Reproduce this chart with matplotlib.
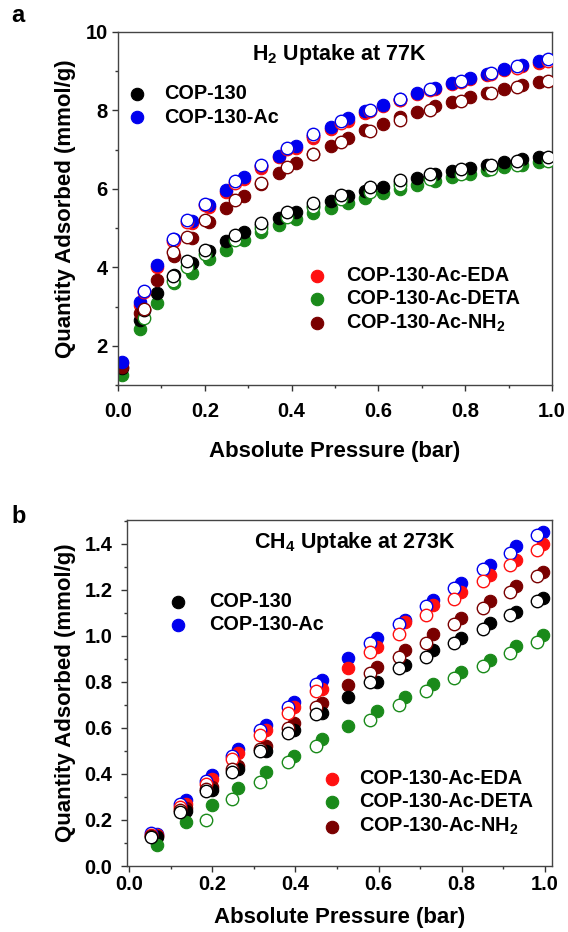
import matplotlib
matplotlib.use('Agg')
import matplotlib.pyplot as plt
from matplotlib.ticker import MultipleLocator

plt.rcParams['font.family'] = ['Liberation Sans', 'DejaVu Sans']
plt.rcParams['font.weight'] = 'bold'
plt.rcParams['mathtext.fontset'] = 'custom'
plt.rcParams['mathtext.rm'] = 'Liberation Sans:bold'
plt.rcParams['mathtext.bf'] = 'Liberation Sans:bold'
plt.rcParams['mathtext.default'] = 'bf'

names = ['COP-130', 'COP-130-Ac', 'COP-130-Ac-EDA', 'COP-130-Ac-DETA', 'COP-130-Ac-NH$_2$']
colors = ['#000000', '#0000ee', '#ff1010', '#1a8a1a', '#7a0000']

# ---- H2 at 77K (panel a) ----
h2_p_ads = [0.01, 0.05, 0.09, 0.13, 0.17, 0.21, 0.25, 0.29, 0.33, 0.37, 0.41, 0.45, 0.49,
            0.53, 0.57, 0.61, 0.65, 0.69, 0.73, 0.77, 0.81, 0.85, 0.89, 0.93, 0.97]
h2_ads = {
    'COP-130': [1.43, 2.66, 3.35, 3.80, 4.10, 4.42, 4.68, 4.90, 5.08, 5.26, 5.42, 5.57, 5.70,
                5.83, 5.95, 6.06, 6.17, 6.27, 6.37, 6.46, 6.54, 6.62, 6.69, 6.75, 6.80],
    'COP-130-Ac': [1.59, 3.12, 4.06, 4.72, 5.18, 5.60, 5.97, 6.30, 6.58, 6.85, 7.10, 7.35, 7.57,
                   7.80, 7.98, 8.14, 8.30, 8.45, 8.58, 8.70, 8.82, 8.94, 9.05, 9.15, 9.25],
    'COP-130-Ac-EDA': [1.55, 3.05, 4.00, 4.68, 5.12, 5.55, 5.92, 6.25, 6.53, 6.80, 7.05, 7.30, 7.52,
                       7.74, 7.93, 8.10, 8.26, 8.41, 8.54, 8.67, 8.79, 8.91, 9.02, 9.12, 9.22],
    'COP-130-Ac-DETA': [1.25, 2.42, 3.09, 3.60, 3.85, 4.20, 4.45, 4.70, 4.90, 5.08, 5.24, 5.39, 5.52,
                        5.65, 5.77, 5.89, 6.00, 6.10, 6.20, 6.30, 6.39, 6.47, 6.55, 6.62, 6.68],
    'COP-130-Ac-NH$_2$': [1.45, 2.84, 3.68, 4.30, 4.75, 5.15, 5.50, 5.82, 6.12, 6.40, 6.65, 6.90, 7.10,
                          7.30, 7.50, 7.66, 7.82, 7.97, 8.10, 8.22, 8.33, 8.44, 8.54, 8.64, 8.72],
}
h2_p_des = [0.99, 0.92, 0.86, 0.79, 0.72, 0.65, 0.58, 0.515, 0.45, 0.39, 0.33, 0.27, 0.20, 0.16, 0.127, 0.06]
h2_des = {
    'COP-130': [6.82, 6.72, 6.62, 6.50, 6.38, 6.22, 6.05, 5.85, 5.65, 5.40, 5.12, 4.82, 4.45, 4.15, 3.78, 2.90],
    'COP-130-Ac': [9.30, 9.12, 8.96, 8.76, 8.55, 8.30, 8.02, 7.72, 7.40, 7.05, 6.62, 6.20, 5.62, 5.20, 4.72, 3.40],
    'COP-130-Ac-EDA': [9.26, 9.08, 8.92, 8.72, 8.51, 8.26, 7.98, 7.68, 7.36, 7.01, 6.58, 6.16, 5.58, 5.16, 4.68, 3.36],
    'COP-130-Ac-DETA': [6.70, 6.60, 6.50, 6.38, 6.26, 6.10, 5.93, 5.74, 5.53, 5.28, 5.00, 4.70, 4.33, 4.02, 3.65, 2.70],
    'COP-130-Ac-NH$_2$': [8.75, 8.60, 8.45, 8.25, 8.02, 7.75, 7.48, 7.20, 6.90, 6.55, 6.15, 5.72, 5.20, 4.78, 4.38, 2.95],
}

# ---- CH4 at 273K (panel b) ----
ch4_p_ads = [0.067, 0.137, 0.20, 0.262, 0.33, 0.397, 0.464, 0.527, 0.596, 0.663, 0.73, 0.798, 0.867, 0.93, 0.995]
ch4_ads = {
    'COP-130': [0.125, 0.24, 0.33, 0.42, 0.50, 0.59, 0.665, 0.735, 0.80, 0.875, 0.94, 0.99, 1.055, 1.105, 1.165],
    'COP-130-Ac': [0.14, 0.285, 0.395, 0.51, 0.615, 0.715, 0.81, 0.905, 0.99, 1.07, 1.155, 1.23, 1.31, 1.39, 1.45],
    'COP-130-Ac-EDA': [0.135, 0.27, 0.38, 0.49, 0.59, 0.69, 0.77, 0.86, 0.95, 1.06, 1.135, 1.19, 1.265, 1.33, 1.40],
    'COP-130-Ac-DETA': [0.09, 0.19, 0.265, 0.34, 0.41, 0.48, 0.55, 0.61, 0.675, 0.735, 0.79, 0.845, 0.895, 0.955, 1.005],
    'COP-130-Ac-NH$_2$': [0.13, 0.25, 0.345, 0.435, 0.52, 0.62, 0.71, 0.787, 0.865, 0.94, 1.01, 1.08, 1.15, 1.215, 1.28],
}
ch4_p_des = [0.98, 0.915, 0.85, 0.782, 0.715, 0.648, 0.58, 0.449, 0.382, 0.315, 0.247, 0.185, 0.122, 0.052]
ch4_des = {
    'COP-130': [1.15, 1.09, 1.03, 0.97, 0.91, 0.86, 0.80, 0.66, 0.58, 0.50, 0.41, 0.325, 0.235, 0.125],
    'COP-130-Ac': [1.44, 1.36, 1.29, 1.21, 1.13, 1.05, 0.97, 0.79, 0.69, 0.59, 0.48, 0.37, 0.27, 0.145],
    'COP-130-Ac-EDA': [1.375, 1.31, 1.24, 1.16, 1.09, 1.01, 0.93, 0.76, 0.665, 0.57, 0.465, 0.355, 0.255, 0.135],
    'COP-130-Ac-DETA': [0.975, 0.925, 0.87, 0.815, 0.76, 0.70, 0.635, 0.52, 0.45, 0.365, 0.29, 0.20],
    'COP-130-Ac-NH$_2$': [1.26, 1.19, 1.12, 1.05, 0.97, 0.91, 0.84, 0.69, 0.60, 0.51, 0.42, 0.335, 0.245, 0.13],
}

fig = plt.figure(figsize=(5.68, 9.32), dpi=100)
ax_a = fig.add_axes([0.2077, 0.5869, 0.7641, 0.3788])
ax_b = fig.add_axes([0.2236, 0.0708, 0.7482, 0.3713])

ms = 80  # marker area
lfs = 14.3  # legend font size
tfs = 15.5  # title font size


def draw(ax, p_ads, ads, p_des, des, order):
    handles = {}
    for n in order:
        c = colors[names.index(n)]
        handles[n] = ax.scatter(p_ads[:len(ads[n])], ads[n], s=ms, color=c, edgecolors=c,
                                linewidths=0.8, zorder=2)
    for n in order:
        c = colors[names.index(n)]
        ax.scatter(p_des[:len(des[n])], des[n], s=ms, facecolors='white', edgecolors=c,
                   linewidths=1.0, zorder=3)
    return handles


def style(ax, xlim, ylim, ymaj, ymin, xpad, ypad):
    ax.set_xlim(*xlim)
    ax.set_ylim(*ylim)
    ax.xaxis.set_major_locator(MultipleLocator(0.2))
    ax.xaxis.set_minor_locator(MultipleLocator(0.1))
    ax.yaxis.set_major_locator(MultipleLocator(ymaj))
    ax.yaxis.set_minor_locator(MultipleLocator(ymin))
    ax.tick_params(which='both', direction='out', top=False, right=False, width=1.0, color='#333333')
    ax.tick_params(which='major', length=4.5, labelsize=14.5)
    ax.tick_params(which='minor', length=2.5)
    ax.tick_params(axis='x', pad=xpad)
    ax.tick_params(axis='y', pad=ypad)
    for s in ax.spines.values():
        s.set_linewidth(1.0)
        s.set_color('#444444')
    ax.set_xlabel('Absolute Pressure (bar)', fontsize=16, fontweight='bold')
    ax.set_ylabel('Quantity Adsorbed (mmol/g)', fontsize=16, fontweight='bold')


def legends(ax, h, pos1, pad1, pos2, pad2):
    first = ['COP-130', 'COP-130-Ac']
    second = ['COP-130-Ac-EDA', 'COP-130-Ac-DETA', 'COP-130-Ac-NH$_2$']
    l1 = ax.legend([h[n] for n in first], first, loc='center left', bbox_to_anchor=pos1,
                   frameon=False, fontsize=lfs, borderpad=0, borderaxespad=0, handlelength=1.0,
                   handletextpad=pad1, labelspacing=0.22, scatterpoints=1)
    ax.add_artist(l1)
    ax.legend([h[n] for n in second], second, loc='center left', bbox_to_anchor=pos2,
              frameon=False, fontsize=lfs, borderpad=0, borderaxespad=0, handlelength=1.0,
              handletextpad=pad2, labelspacing=0.22, scatterpoints=1)


# panel a
ha = draw(ax_a, h2_p_ads, h2_ads, h2_p_des, h2_des,
          ['COP-130-Ac-DETA', 'COP-130', 'COP-130-Ac-EDA', 'COP-130-Ac-NH$_2$', 'COP-130-Ac'])
style(ax_a, (0, 1.0), (1, 10), 2, 1, 8, 3)
ax_a.xaxis.set_label_coords(0.5, -0.16)
ax_a.yaxis.set_label_coords(-0.097, 0.5)
ax_a.text(0.51, 0.935, 'H$_2$ Uptake at 77K', transform=ax_a.transAxes, ha='center', va='center',
          fontsize=tfs, fontweight='bold')
legends(ax_a, ha, (0.022, 0.792), 0.85, (0.435, 0.241), 1.0)

# panel b
hb = draw(ax_b, ch4_p_ads, ch4_ads, ch4_p_des, ch4_des,
          ['COP-130-Ac', 'COP-130-Ac-EDA', 'COP-130-Ac-NH$_2$', 'COP-130', 'COP-130-Ac-DETA'])
style(ax_b, (-0.005, 1.017), (0, 1.504), 0.2, 0.1, 2, 6)
ax_b.xaxis.set_label_coords(0.5, -0.118)
ax_b.yaxis.set_label_coords(-0.12, 0.5)
ax_b.text(0.536, 0.936, 'CH$_4$ Uptake at 273K', transform=ax_b.transAxes, ha='center', va='center',
          fontsize=tfs, fontweight='bold')
legends(ax_b, hb, (0.096, 0.731), 1.1, (0.458, 0.182), 0.9)

fig.text(0.032, 0.983, 'a', fontsize=17, fontweight='bold', ha='center', va='center')
fig.text(0.032, 0.446, 'b', fontsize=17, fontweight='bold', ha='center', va='center')

fig.savefig('out.png', dpi=100)
